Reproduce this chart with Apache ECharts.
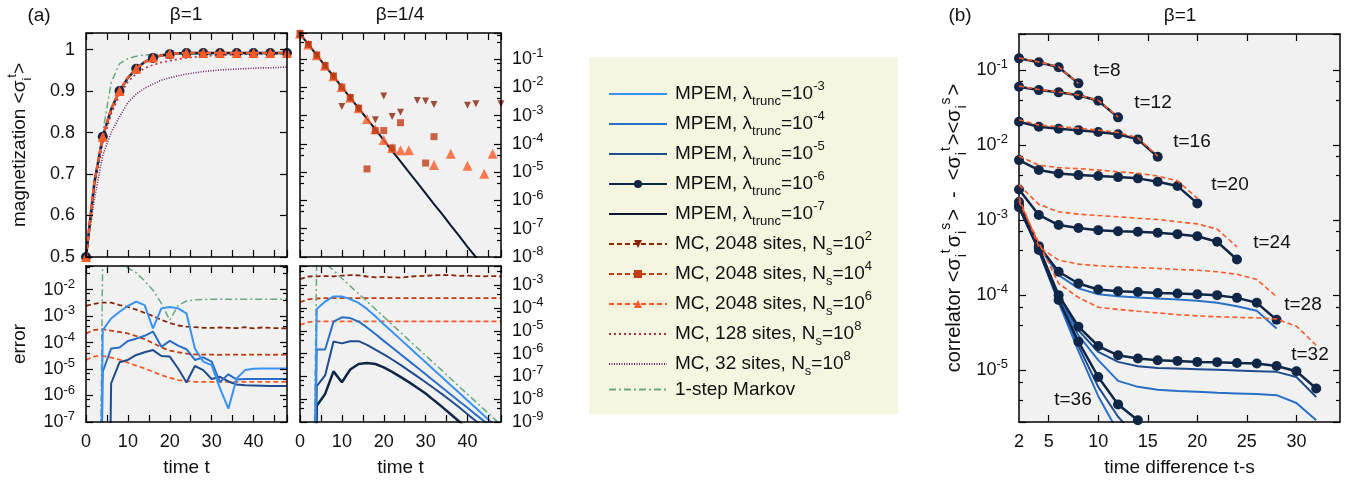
<!DOCTYPE html>
<html>
<head>
<meta charset="utf-8">
<script src="https://cdn.jsdelivr.net/npm/echarts@6/dist/echarts.min.js"></script>
<style>
  html, body { margin: 0; padding: 0; background: #fff; }
  #chart { width: 1350px; height: 480px; }
</style>
</head>
<body>
<div id="chart"></div>
<script>
const FONT = '"Liberation Sans", Arial, Helvetica, sans-serif';
const INK = '#111';

// ---- panel (a): time steps
const tA = [0,2,4,6,8,10,12,14,16,18,20,22,24,26,28,30,32,34,36,38,40,42,44,46,48];

// (a) top left, beta=1, magnetization (linear)
const mag1Mpem = [0.500,0.680,0.790,0.856,0.900,0.932,0.954,0.970,0.980,0.986,0.989,0.991,0.992,0.992,0.992,0.992,0.992,0.992,0.992,0.992,0.992,0.992,0.992,0.992,0.992];
const mag1Mc6 = [0.500,0.682,0.790,0.857,0.900,0.933,0.954,0.970,0.981,0.986,0.990,0.991,0.992,0.992,0.992,0.992,0.992,0.992,0.992,0.992,0.992,0.992,0.992,0.992,0.992];
const mag1Mc128 = [0.500,0.670,0.775,0.845,0.890,0.922,0.942,0.955,0.963,0.969,0.973,0.977,0.980,0.982,0.984,0.985,0.986,0.987,0.988,0.989,0.989,0.990,0.990,0.990,0.991];
const mag1Mc32 = [0.500,0.640,0.745,0.800,0.838,0.872,0.893,0.907,0.917,0.926,0.932,0.937,0.941,0.944,0.947,0.949,0.951,0.952,0.953,0.954,0.955,0.956,0.956,0.957,0.958];
const mag1Markov = [0.500,0.670,0.800,0.920,0.966,0.978,0.984,0.987,0.988,0.989,0.989,0.989,0.989,0.989,0.989,0.989,0.989,0.989,0.989,0.989,0.989,0.989,0.989,0.989,0.989];

// (a) top right, beta=1/4, magnetization (log)
const mag4Mpem = [0.776,0.327,0.137,0.0575,0.0245,0.0102,4.27e-3,1.82e-3,7.6e-4,3.24e-4,1.35e-4,5.6e-5,2.4e-5,1.0e-5,4.3e-6,1.78e-6,7.4e-7,3.2e-7,1.32e-7,5.6e-8,2.3e-8,9.8e-9,4.2e-9];
const mag4Mc2T = [0,2,4,6,8,10,12,14,18,20,22,24,28,30,32,40,42,48];
const mag4Mc2 = [0.776,0.327,0.137,0.0575,0.0245,2.1e-3,4.3e-3,1.8e-3,7.1e-4,4.9e-3,9.3e-4,1.3e-3,3.4e-3,3.3e-3,2.45e-3,2.3e-3,2.6e-3,2.6e-3];
const mag4Mc4T = [0,2,4,6,8,10,12,14,16,18,20,22,24,30,32];
const mag4Mc4 = [0.776,0.327,0.137,0.0575,0.0245,0.0102,4.3e-3,1.8e-3,1.3e-5,2.95e-4,2.95e-4,7.2e-5,5.6e-4,2.1e-5,1.8e-4];
const mag4Mc6T = [0,2,4,6,8,10,12,14,16,18,20,22,24,26,32,36,40,44,46];
const mag4Mc6 = [0.776,0.327,0.137,0.0575,0.0245,0.0102,4.3e-3,1.8e-3,7.6e-4,3.3e-4,1.38e-4,7.2e-5,5.9e-5,6.0e-5,1.8e-5,4.5e-5,1.7e-5,8.7e-6,4.5e-5];

// (a) bottom left, beta=1, error
const err1L3 = [null,1e-30,2.95e-4,8.1e-4,1.45e-3,2.4e-3,3.5e-3,2.6e-3,3.4e-4,1.95e-3,2.2e-3,1.95e-3,1.26e-3,6.0e-5,1.9e-5,1.4e-5,1.86e-6,3.2e-7,4.5e-6,9.1e-6,1.02e-5,1.04e-5,1.05e-5,1.05e-5,1.05e-5];
const err1L4 = [null,1e-30,7.9e-6,6.0e-5,6.5e-5,1.15e-4,1.4e-4,1.8e-4,2.6e-4,6.9e-5,1.15e-4,7.6e-5,5.6e-5,2.2e-5,2.75e-5,1.9e-5,3.2e-6,6.3e-6,4.0e-6,4.2e-6,4.2e-6,4.2e-6,4.2e-6,4.2e-6,4.2e-6];
const err1L5 = [null,null,1e-30,2.9e-6,1.8e-5,2.2e-5,3.4e-5,4.3e-5,5.2e-5,3.1e-5,2.95e-5,1.05e-5,3.1e-6,1.3e-5,9.1e-6,4.2e-6,5.1e-6,3.4e-6,2.6e-6,2.45e-6,2.4e-6,2.35e-6,2.3e-6,2.3e-6,2.3e-6];
const err1Mc2 = [2.4e-3,2.9e-3,3.2e-3,3.2e-3,2.6e-3,2.2e-3,1.74e-3,1.32e-3,1.0e-3,7.2e-4,5.5e-4,4.4e-4,4.0e-4,3.8e-4,3.6e-4,3.55e-4,3.7e-4,3.6e-4,3.5e-4,3.8e-4,3.4e-4,3.7e-4,3.55e-4,3.5e-4,3.4e-4];
const err1Mc4 = [2.2e-4,3.0e-4,3.2e-4,2.8e-4,2.5e-4,2.2e-4,1.74e-4,1.35e-4,9.5e-5,6.6e-5,5.0e-5,4.3e-5,3.8e-5,3.55e-5,3.5e-5,3.5e-5,3.45e-5,3.5e-5,3.5e-5,3.45e-5,3.5e-5,3.5e-5,3.45e-5,3.5e-5,3.5e-5];
const err1Mc6 = [2.2e-5,3.0e-5,3.1e-5,2.7e-5,2.25e-5,1.74e-5,1.35e-5,1.05e-5,7.9e-6,5.9e-6,4.7e-6,3.8e-6,3.5e-6,3.3e-6,3.3e-6,3.3e-6,3.3e-6,3.3e-6,3.3e-6,3.3e-6,3.3e-6,3.3e-6,3.3e-6,3.3e-6,3.3e-6];
const err1Markov = [null,1e-30,0.3,0.2,0.1,0.065,0.043,0.021,9.5e-3,3.0e-3,7.0e-4,2.5e-3,3.7e-3,4.1e-3,4.2e-3,4.3e-3,4.3e-3,4.3e-3,4.3e-3,4.3e-3,4.3e-3,4.3e-3,4.3e-3,4.3e-3,4.3e-3];

// (a) bottom right, beta=1/4, error
const err4L3 = [null,1e-30,9.1e-5,1.9e-4,3.2e-4,3.2e-4,2.45e-4,1.66e-4,9.1e-5,4.3e-5,1.95e-5,9.1e-6,4.2e-6,1.95e-6,8.9e-7,4.2e-7,1.9e-7,8.9e-8,4.1e-8,1.9e-8,8.7e-9,4.1e-9,1.86e-9,8.7e-10,4.0e-10];
const err4L4 = [null,1e-30,1.5e-6,1.5e-6,2.5e-5,3.9e-5,3.6e-5,2.5e-5,1.4e-5,7.2e-6,3.6e-6,1.86e-6,9.3e-7,4.8e-7,2.45e-7,1.23e-7,6.3e-8,3.2e-8,1.62e-8,8.1e-9,4.2e-9,2.1e-9,1.07e-9,5.5e-10,2.8e-10];
const err4L5 = [null,1e-30,3.7e-8,1.1e-7,3.4e-6,2.8e-6,3.5e-6,3.5e-6,2.4e-6,1.5e-6,9.3e-7,5.5e-7,3.2e-7,1.78e-7,1.0e-7,5.5e-8,3.0e-8,1.62e-8,8.5e-9,4.4e-9,2.2e-9,1.1e-9,5.4e-10,2.7e-10,1.3e-10];
const err4L6 = [null,1e-30,5.2e-9,1.7e-8,1.66e-7,5.5e-8,2.0e-7,3.5e-7,3.9e-7,3.5e-7,2.5e-7,1.58e-7,9.5e-8,5.6e-8,3.2e-8,1.78e-8,8.9e-9,4.5e-9,2.2e-9,1.05e-9,5e-10,2.4e-10,1.2e-10,6e-11,3e-11];
const err4Mc2 = [1.86e-3,2.4e-3,2.45e-3,2.5e-3,2.45e-3,2.6e-3,2.75e-3,2.7e-3,2.4e-3,2.2e-3,2.3e-3,2.2e-3,2.15e-3,2.35e-3,2.5e-3,2.55e-3,2.7e-3,2.8e-3,2.75e-3,2.55e-3,2.6e-3,2.5e-3,2.45e-3,2.5e-3,2.45e-3];
const err4Mc4 = [1.8e-4,2.4e-4,2.6e-4,2.7e-4,2.7e-4,2.7e-4,2.7e-4,2.7e-4,2.7e-4,2.7e-4,2.7e-4,2.7e-4,2.7e-4,2.7e-4,2.7e-4,2.7e-4,2.7e-4,2.7e-4,2.7e-4,2.7e-4,2.7e-4,2.7e-4,2.7e-4,2.7e-4,2.7e-4];
const err4Mc6 = [1.8e-5,2.4e-5,2.6e-5,2.6e-5,2.6e-5,2.6e-5,2.6e-5,2.6e-5,2.6e-5,2.6e-5,2.6e-5,2.6e-5,2.6e-5,2.6e-5,2.6e-5,2.6e-5,2.6e-5,2.6e-5,2.6e-5,2.6e-5,2.6e-5,2.6e-5,2.6e-5,2.6e-5,2.6e-5];
const err4Markov = [null,1e-30,0.02,9.5e-3,4.4e-3,2.0e-3,9.1e-4,4.2e-4,1.95e-4,8.9e-5,4.1e-5,1.86e-5,8.5e-6,3.9e-6,1.78e-6,8.3e-7,3.8e-7,1.74e-7,7.9e-8,3.6e-8,1.66e-8,7.6e-9,3.5e-9,1.62e-9,7.4e-10];

// ---- panel (b): correlator vs time difference
const lags = [2,4,6,8,10,12,14,16,18,20,22,24,26,28,30,32,34,36];
const lagLabels = [2,5,10,15,20,25,30];
const lagTicks = [5,10,15,20,25,30];
const corr8 = [0.143,0.127,0.109,0.0664];
const mcCorr8 = [0.145,0.128,0.110,0.0665];
const corr12 = [0.060,0.054,0.0504,0.046,0.039,0.0234];
const mcCorr12 = [0.061,0.055,0.051,0.0465,0.0395,0.0236];
const corr16 = [0.0205,0.0175,0.0165,0.0158,0.0149,0.0139,0.0119,0.00698];
const mcCorr16 = [0.0218,0.0185,0.0175,0.0168,0.0158,0.0147,0.0125,0.0071];
const corr20 = [6.3e-3,4.65e-3,4.19e-3,3.98e-3,3.86e-3,3.74e-3,3.6e-3,3.24e-3,2.84e-3,1.67e-3];
const mcCorr20 = [7.1e-3,5.4e-3,5.0e-3,4.85e-3,4.65e-3,4.4e-3,4.2e-3,3.86e-3,3.34e-3,1.95e-3];
const corr24 = [2.56e-3,1.17e-3,8.6e-4,7.85e-4,7.35e-4,7.1e-4,7.0e-4,6.8e-4,6.5e-4,6.1e-4,5.15e-4,2.99e-4];
const mcCorr24 = [2.95e-3,1.62e-3,1.29e-3,1.2e-3,1.15e-3,1.11e-3,1.06e-3,1.02e-3,9.5e-4,8.9e-4,7.6e-4,4.4e-4];
const corr28 = [1.74e-3,4.5e-4,2.05e-4,1.43e-4,1.19e-4,1.13e-4,1.10e-4,1.07e-4,1.05e-4,1.03e-4,1.0e-4,9.2e-5,7.9e-5,4.7e-5];
const corr28L4 = [1.74e-3,4.5e-4,1.85e-4,1.23e-4,1.03e-4,9.7e-5,9.3e-5,9.0e-5,8.75e-5,8.4e-5,7.9e-5,7.1e-5,6.2e-5,3.6e-5];
const mcCorr28 = [2.0e-3,4.4e-4,2.93e-4,2.59e-4,2.46e-4,2.39e-4,2.33e-4,2.27e-4,2.2e-4,2.15e-4,2.05e-4,1.9e-4,1.62e-4,9.5e-5];
const corr32 = [1.58e-3,4.3e-4,1.0e-4,3.8e-5,2.1e-5,1.58e-5,1.43e-5,1.36e-5,1.33e-5,1.29e-5,1.28e-5,1.25e-5,1.23e-5,1.14e-5,9.7e-6,5.7e-6];
const corr32L5 = [1.58e-3,4.3e-4,9.6e-5,3.4e-5,1.75e-5,1.29e-5,1.13e-5,1.07e-5,1.05e-5,1.03e-5,1.01e-5,9.9e-6,9.7e-6,9.5e-6,8.1e-6,4.4e-6];
const corr32L4 = [1.58e-3,4.3e-4,9.3e-5,2.9e-5,1.36e-5,7.2e-6,6.0e-6,5.5e-6,5.3e-6,5.15e-6,5.0e-6,4.9e-6,4.8e-6,4.65e-6,3.66e-6,2.15e-6];
const mcCorr32 = [1.78e-3,5.0e-4,1.43e-4,9.3e-5,6.9e-5,6.45e-5,6.1e-5,5.8e-5,5.5e-5,5.3e-5,5.15e-5,5.05e-5,4.99e-5,4.8e-5,3.86e-5,2.15e-5];
const corr36 = [1.48e-3,4.0e-4,8.6e-5,2.4e-5,8.1e-6,3.5e-6,2.15e-6];
const corr36L5 = [1.48e-3,4.0e-4,8.3e-5,2.1e-5,6.0e-6,2.4e-6,1.2e-6];
const corr36L4 = [1.48e-3,3.9e-4,8.0e-5,1.8e-5,4.5e-6,1.5e-6];
const curveLabels = ['t=8','t=12','t=16','t=20','t=24','t=28','t=32','t=36'];

// ---- legend
const legendKeys = ['l3','l4','l5','l6','l7','mc2','mc4','mc6','mc128','mc32','markov'];
const legendText = {
  l3: '{a|MPEM, λ}{sub|trunc}{a|=10}{sup|-3}',
  l4: '{a|MPEM, λ}{sub|trunc}{a|=10}{sup|-4}',
  l5: '{a|MPEM, λ}{sub|trunc}{a|=10}{sup|-5}',
  l6: '{a|MPEM, λ}{sub|trunc}{a|=10}{sup|-6}',
  l7: '{a|MPEM, λ}{sub|trunc}{a|=10}{sup|-7}',
  mc2: '{a|MC, 2048 sites, N}{sub|s}{a|=10}{sup|2}',
  mc4: '{a|MC, 2048 sites, N}{sub|s}{a|=10}{sup|4}',
  mc6: '{a|MC, 2048 sites, N}{sub|s}{a|=10}{sup|6}',
  mc128: '{a|MC, 128 sites, N}{sub|s}{a|=10}{sup|8}',
  mc32: '{a|MC, 32 sites, N}{sub|s}{a|=10}{sup|8}',
  markov: '{a|1-step Markov}'
};

const COL = {
  l3: '#3b91f2', l4: '#2a6fc6', l5: '#1f4c8c', l6: '#0f2647', l7: '#0b1732',
  mc2: '#8a2608', mc4: '#c23d14', mc6: '#ff5a28', mc128: '#b3304a', mc32: '#6e1f5c', markov: '#68a982'
};
const LS = {
  l3: { width: 2 }, l4: { width: 2 }, l5: { width: 2 }, l6: { width: 2.5 }, l7: { width: 2 },
  mc2: { width: 1.8, type: [5, 3] }, mc4: { width: 1.8, type: [5, 3] }, mc6: { width: 1.8, type: [5, 3] },
  mc128: { width: 1.6, type: [2, 3] }, mc32: { width: 1.6, type: [1, 1.5] }, markov: { width: 1.5, type: [7, 3, 2, 3] }
};
const SYM = { l6: 'circle', mc2: 'triangle', mc4: 'rect', mc6: 'triangle' };
const ROT = { mc2: 180 };

// grid index -> [xAxisIndex, yAxisIndex]
const AX = [[0, 0], [2, 3], [4, 4], [6, 7], [8, 8]];

function pairs(xs, ys) {
  const out = [];
  ys.forEach((y, i) => { if (y != null) out.push([xs[i], y]); });
  return out;
}

function ser(key, g, xs, ys, extra) {
  return Object.assign({
    type: 'line', name: key, xAxisIndex: AX[g][0], yAxisIndex: AX[g][1],
    data: pairs(xs, ys), symbol: 'none', color: COL[key],
    lineStyle: Object.assign({ color: COL[key] }, LS[key]),
    itemStyle: { color: COL[key] }, silent: true, clip: true, z: 3
  }, extra || {});
}

function dots(key, g, xs, ys, size) {
  return {
    type: 'scatter', name: key, xAxisIndex: AX[g][0], yAxisIndex: AX[g][1],
    data: pairs(xs, ys), symbol: SYM[key], symbolRotate: ROT[key] || 0, symbolSize: size,
    itemStyle: { color: COL[key] }, color: COL[key], silent: true, clip: true, z: 4
  };
}

// ---- axes
const tickStyle = { color: '#000', width: 1.2 };
const labRich = {
  b: { fontFamily: FONT, fontSize: 18, color: INK, lineHeight: 24 },
  s: { fontFamily: FONT, fontSize: 13, color: INK, lineHeight: 13, verticalAlign: 'top' }
};
const nameRich = {
  a: { fontFamily: FONT, fontSize: 19, color: INK, lineHeight: 28 },
  sub: { fontFamily: FONT, fontSize: 13, color: INK, lineHeight: 13, verticalAlign: 'bottom' },
  sup: { fontFamily: FONT, fontSize: 13, color: INK, lineHeight: 13, verticalAlign: 'top' }
};
const corrRich = {
  a: { fontFamily: FONT, fontSize: 20, color: INK, lineHeight: 30 },
  sub: { fontFamily: FONT, fontSize: 14, color: INK, lineHeight: 14, verticalAlign: 'bottom', padding: [0, 1, 0, 1] },
  sup: { fontFamily: FONT, fontSize: 14, color: INK, lineHeight: 14, verticalAlign: 'top', padding: [0, 2, 0, 0] }
};

function powLabel(v) {
  const e = Math.log10(v), r = Math.round(e);
  return Math.abs(e - r) < 1e-6 ? '{b|10}{s|' + r + '}' : '';
}
function tLabel(v) { return v % 10 === 0 ? String(v) : ''; }
function magLabel(v) {
  const k = Math.round(v * 10);
  if (Math.abs(v * 10 - k) > 1e-6 || v > 1.0001) return '';
  return k === 10 ? '1' : (k / 10).toFixed(1);
}

const tAxis = { min: 0, max: 48, interval: 5, fmt: tLabel };
const magAxis = { min: 0.5, max: 1.04, interval: 0.1, fmt: magLabel };
const mag4Axis = { type: 'log', min: 1e-8, max: 0.832, minor: true, fmt: powLabel };
const err1Axis = { type: 'log', min: 1e-7, max: 0.0776, minor: true, fmt: powLabel };
const err4Axis = { type: 'log', min: 1e-9, max: 6.92e-3, minor: true, fmt: powLabel };
const lagAxis = { min: 2, max: 34.4, tick: { customValues: lagTicks }, label: { customValues: lagLabels }, fmt: v => String(v) };
const corrAxis = { type: 'log', min: 2.04e-6, max: 0.302, minor: true, fmt: powLabel };

function axis(grid, pos, cfg, showLabels, named) {
  const a = {
    type: cfg.type || 'value', gridIndex: grid, position: pos,
    min: cfg.min, max: cfg.max,
    axisLine: { show: true, onZero: false, lineStyle: { color: '#000', width: 1.5 } },
    axisTick: Object.assign({ show: true, inside: true, length: 7, lineStyle: tickStyle }, cfg.tick || {}),
    minorTick: cfg.minor ? { show: true, splitNumber: 3, length: 4, lineStyle: tickStyle } : { show: false },
    splitLine: { show: false }, minorSplitLine: { show: false },
    axisLabel: showLabels
      ? Object.assign({ show: true, margin: 11, fontFamily: FONT, fontSize: 18, color: INK, rich: labRich, formatter: cfg.fmt, hideOverlap: false }, cfg.label || {})
      : { show: false },
    z: 5
  };
  if (cfg.type === 'log') a.logBase = 10;
  if (cfg.interval) a.interval = cfg.interval;
  return Object.assign(a, named || {});
}
const xName = t => ({ name: t, nameLocation: 'middle', nameGap: 36, nameTextStyle: { fontFamily: FONT, fontSize: 19, color: INK } });
const yName = (t, gap, rich) => ({ name: t, nameLocation: 'middle', nameGap: gap, nameRotate: 90, nameTextStyle: { fontFamily: FONT, fontSize: 19, color: INK, rich: rich || nameRich } });

const xAxes = [
  axis(0, 'bottom', tAxis, false), axis(0, 'top', tAxis, false),
  axis(1, 'bottom', tAxis, false), axis(1, 'top', tAxis, false),
  axis(2, 'bottom', tAxis, true, xName('time t')), axis(2, 'top', tAxis, false),
  axis(3, 'bottom', tAxis, true, xName('time t')), axis(3, 'top', tAxis, false),
  axis(4, 'bottom', lagAxis, true, xName('time difference t-s')), axis(4, 'top', lagAxis, false)
];
const yAxes = [
  axis(0, 'left', magAxis, true, yName('{a|magnetization <σ}{sub|i}{sup|t}{a|>}', 52)), axis(0, 'right', magAxis, false),
  axis(1, 'left', mag4Axis, false), axis(1, 'right', mag4Axis, true),
  axis(2, 'left', err1Axis, true, yName('{a|error}', 52)), axis(2, 'right', err1Axis, false),
  axis(3, 'left', err4Axis, false), axis(3, 'right', err4Axis, true),
  axis(4, 'left', corrAxis, true, yName('{a|correlator <σ}{sub|i}{sup|t}{a|σ}{sub|i}{sup|s}{a|>  -  <σ}{sub|i}{sup|t}{a|><σ}{sub|i}{sup|s}{a|>}', 50, corrRich)),
  axis(4, 'right', corrAxis, false)
];

const gridBase = { show: true, backgroundColor: '#f1f1f1', borderWidth: 0, containLabel: false, outerBoundsMode: 'none' };
const grids = [
  Object.assign({ left: 86, top: 33, width: 201, height: 224 }, gridBase),
  Object.assign({ left: 300, top: 33, width: 201, height: 224 }, gridBase),
  Object.assign({ left: 86, top: 266, width: 201, height: 156 }, gridBase),
  Object.assign({ left: 300, top: 266, width: 201, height: 156 }, gridBase),
  Object.assign({ left: 1019, top: 34, width: 321, height: 388 }, gridBase)
];

// ---- series
const series = [];

// legend proxies (first series of each name defines the legend icon)
legendKeys.forEach(k => series.push({
  type: 'line', name: k, xAxisIndex: 0, yAxisIndex: 0, data: [],
  symbol: SYM[k] || 'none', symbolRotate: ROT[k] || 0, color: COL[k],
  lineStyle: Object.assign({ color: COL[k] }, LS[k]), itemStyle: { color: COL[k] }
}));

// (a) top left
series.push(
  ser('markov', 0, tA, mag1Markov),
  ser('mc32', 0, tA, mag1Mc32),
  ser('mc128', 0, tA, mag1Mc128),
  ser('l6', 0, tA, mag1Mpem, { symbol: (v, p) => (p.dataIndex % 2 === 0 ? 'circle' : 'none'), symbolSize: 10 }),
  ser('mc6', 0, tA, mag1Mc6, { symbol: (v, p) => (p.dataIndex % 2 === 0 ? 'triangle' : 'none'), symbolSize: 10, lineStyle: { color: COL.mc6, width: 2.4, type: [5, 3] }, z: 4 })
);

// (a) top right
series.push(
  ser('l7', 1, tA, mag4Mpem, { lineStyle: { color: COL.l7, width: 2 } }),
  dots('mc6', 1, mag4Mc6T, mag4Mc6, 10),
  dots('mc2', 1, mag4Mc2T, mag4Mc2, 7),
  dots('mc4', 1, mag4Mc4T, mag4Mc4, 7)
);

// (a) bottom left
series.push(
  ser('mc2', 2, tA, err1Mc2), ser('mc4', 2, tA, err1Mc4), ser('mc6', 2, tA, err1Mc6),
  ser('markov', 2, tA, err1Markov),
  ser('l5', 2, tA, err1L5), ser('l4', 2, tA, err1L4), ser('l3', 2, tA, err1L3)
);

// (a) bottom right
series.push(
  ser('mc2', 3, tA, err4Mc2), ser('mc4', 3, tA, err4Mc4), ser('mc6', 3, tA, err4Mc6),
  ser('markov', 3, tA, err4Markov),
  ser('l6', 3, tA, err4L6), ser('l5', 3, tA, err4L5), ser('l4', 3, tA, err4L4), ser('l3', 3, tA, err4L3)
);

// (b)
const circ = { symbol: 'circle', symbolSize: 10, lineStyle: { color: COL.l6, width: 2.5 }, z: 5 };
const orange = { lineStyle: { color: COL.mc6, width: 1.6, type: [5, 3] }, z: 6 };
series.push(
  ser('l4', 4, lags, corr28L4), ser('l5', 4, lags, corr32L5), ser('l4', 4, lags, corr32L4),
  ser('l5', 4, lags, corr36L5), ser('l4', 4, lags, corr36L4),
  ser('l6', 4, lags, corr8, circ), ser('l6', 4, lags, corr12, circ), ser('l6', 4, lags, corr16, circ),
  ser('l6', 4, lags, corr20, circ), ser('l6', 4, lags, corr24, circ), ser('l6', 4, lags, corr28, circ),
  ser('l6', 4, lags, corr32, circ), ser('l6', 4, lags, corr36, circ),
  ser('mc6', 4, lags, mcCorr8, orange), ser('mc6', 4, lags, mcCorr12, orange), ser('mc6', 4, lags, mcCorr16, orange),
  ser('mc6', 4, lags, mcCorr20, orange), ser('mc6', 4, lags, mcCorr24, orange), ser('mc6', 4, lags, mcCorr28, orange),
  ser('mc6', 4, lags, mcCorr32, orange)
);

// ---- annotations
const txt = (s, x, y, align) => ({
  type: 'text', x: x, y: y, z: 10,
  style: { text: s, fontFamily: FONT, fontSize: 19, fill: INK, textAlign: align || 'center', textVerticalAlign: 'middle' }
});
const labelPos = [[1107, 71], [1153, 103], [1192, 142], [1230, 185], [1272, 243], [1303, 305], [1310, 355], [1073, 400]];

const graphics = [
  { type: 'rect', shape: { x: 589, y: 57, width: 309, height: 357 }, style: { fill: '#f6f5df' }, z: -1 },
  txt('(a)', 39, 16), txt('β=1', 186, 15), txt('β=1/4', 400, 15),
  txt('(b)', 960, 16), txt('β=1', 1180, 16)
].concat(curveLabels.map((s, i) => txt(s, labelPos[i][0], labelPos[i][1])));

const chart = echarts.init(document.getElementById('chart'), null, { renderer: 'canvas' });
chart.setOption({
  animation: false,
  backgroundColor: '#fff',
  textStyle: { fontFamily: FONT },
  grid: grids,
  xAxis: xAxes,
  yAxis: yAxes,
  legend: {
    show: true, orient: 'vertical', left: 603, top: 75,
    itemWidth: 58, itemHeight: 10, itemGap: 2, selectedMode: false,
    data: legendKeys.map(k => (SYM[k] ? { name: k } : { name: k, itemStyle: { opacity: 0 } })),
    formatter: k => legendText[k],
    textStyle: { fontFamily: FONT, color: INK, padding: [0, 0, 0, 3], rich: nameRich }
  },
  graphic: graphics,
  series: series
});
</script>
</body>
</html>
